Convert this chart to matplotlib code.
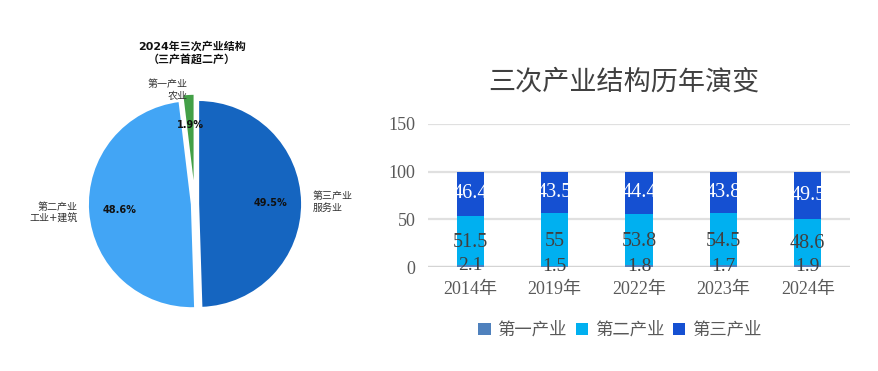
import matplotlib
matplotlib.use('Agg')
import matplotlib.pyplot as plt
import numpy as np

plt.rcParams['font.family'] = ['DejaVu Sans', 'Noto Sans CJK SC']

# pie data (2024)
pie_labels = ['第一产业\n农业', '第二产业\n工业+建筑', '第三产业\n服务业']
pie_values = [1.9, 48.6, 49.5]
pie_colors = ['#43A047', '#42A5F5', '#1565C0']

# stacked bar data
years = ['2014年', '2019年', '2022年', '2023年', '2024年']
primary = [2.1, 1.5, 1.8, 1.7, 1.9]
secondary = [51.5, 55, 53.8, 54.5, 48.6]
tertiary = [46.4, 43.5, 44.4, 43.8, 49.5]
series_names = ['第一产业', '第二产业', '第三产业']
bar_colors = ['#4F81BD', '#00B0F0', '#1550D2']

W, H = 879, 371
fig = plt.figure(figsize=(W / 100, H / 100), dpi=100)

# ---- pie ----
cx, cy, r = 195, 371 - 204, 104
half = 125
ax1 = fig.add_axes([(cx - half) / W, (cy - half) / H, 2 * half / W, 2 * half / H])
wedges, texts, autotexts = ax1.pie(
    pie_values, labels=pie_labels, colors=pie_colors, startangle=90,
    explode=(0.06, 0.03, 0.03), autopct='%1.1f%%', pctdistance=0.7,
    labeldistance=1.1, wedgeprops=dict(edgecolor='white', linewidth=1.5),
    textprops=dict(fontsize=7.2, color='#333333'))
texts[0].set_position((texts[0].get_position()[0], texts[0].get_position()[1] - 0.06))
for t in autotexts:
    t.set_fontweight('bold')
    t.set_color('#111111')
    t.set_fontsize(7)
lim = half / r
ax1.set_xlim(-lim, lim)
ax1.set_ylim(-lim, lim)
fig.text(192 / W, 1 - 53 / H, '2024年三次产业结构\n（三产首超二产）', ha='center', va='center',
         fontsize=7.9, fontweight='bold', color='#111111', linespacing=1.2)

# ---- stacked bars ----
ax2 = fig.add_axes([428 / W, 104 / H, 422 / W, 143 / H])
x = np.arange(len(years))
bw = 0.32
b1 = ax2.bar(x, primary, bw, color=bar_colors[0], label=series_names[0], zorder=3)
b2 = ax2.bar(x, secondary, bw, bottom=primary, color=bar_colors[1], label=series_names[1], zorder=3)
bottom3 = np.array(primary) + np.array(secondary)
b3 = ax2.bar(x, tertiary, bw, bottom=bottom3, color=bar_colors[2], label=series_names[2], zorder=3)

serif = ['Liberation Serif', 'Noto Sans CJK SC']
for i in range(len(years)):
    ax2.text(x[i], primary[i] / 2, f'{primary[i]:g}', ha='center', va='center',
             fontsize=14, color='#404040', family=serif, zorder=4)
    ax2.text(x[i], primary[i] + secondary[i] / 2 - 2, f'{secondary[i]:g}', ha='center', va='center',
             fontsize=14.5, color='#404040', family=serif, zorder=4)
    ax2.text(x[i], bottom3[i] + tertiary[i] / 2, f'{tertiary[i]:g}', ha='center', va='center',
             fontsize=14.5, color='white', family=serif, zorder=4)

ax2.set_xlim(-0.5, len(years) - 0.5)
ax2.set_ylim(0, 150)
ax2.set_yticks([0, 50, 100, 150])
ax2.set_xticks(x)
ax2.set_xticklabels(years, family=serif, fontsize=13, color='#595959')
for lbl in ax2.get_yticklabels():
    lbl.set_family(serif)
    lbl.set_fontsize(13)
    lbl.set_color('#595959')
ax2.tick_params(length=0, pad=9)
ax2.tick_params(axis='x', pad=10)
ax2.grid(axis='y', color='#e0e0e0', linewidth=1.6, zorder=0)
for s in ['top', 'right', 'left', 'bottom']:
    ax2.spines[s].set_visible(False)
ax2.axhline(0, color='#d4d4d4', linewidth=1.6, zorder=2)

fig.text(624 / W, 1 - 82 / H, '三次产业结构历年演变', ha='center', va='center',
         fontsize=19.5, color='#404040', family=['Noto Sans CJK SC'])

leg = fig.legend(handles=[b1, b2, b3], labels=series_names, loc='center',
                 bbox_to_anchor=(620 / W, 1 - 330 / H), ncol=3, frameon=False,
                 handlelength=0.7, handleheight=0.7, handletextpad=0.4, columnspacing=0.5,
                 prop=dict(family=['Noto Sans CJK SC'], size=12.5))
for t in leg.get_texts():
    t.set_color('#595959')

fig.savefig('out.png', dpi=100)
